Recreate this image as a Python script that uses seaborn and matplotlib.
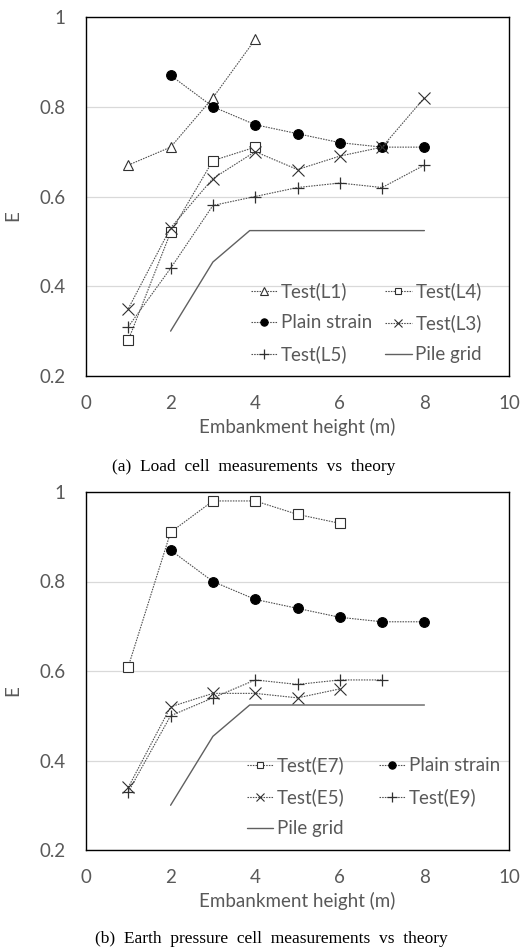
import matplotlib
matplotlib.use("Agg")
import matplotlib.pyplot as plt
import seaborn as sns

# ---------------- data ----------------
x_L1 = [1, 2, 3, 4]
y_L1 = [0.67, 0.71, 0.82, 0.95]
x_L4 = [1, 2, 3, 4]
y_L4 = [0.28, 0.52, 0.68, 0.71]
x_PS = [2, 3, 4, 5, 6, 7, 8]
y_PS = [0.87, 0.80, 0.76, 0.74, 0.72, 0.71, 0.71]
x_L3 = [1, 2, 3, 4, 5, 6, 7, 8]
y_L3 = [0.35, 0.53, 0.64, 0.70, 0.66, 0.69, 0.71, 0.82]
x_L5 = [1, 2, 3, 4, 5, 6, 7, 8]
y_L5 = [0.31, 0.44, 0.58, 0.60, 0.62, 0.63, 0.62, 0.67]
x_PG = [2, 3, 3.87, 8]
y_PG = [0.30, 0.454, 0.524, 0.524]

x_E7 = [1, 2, 3, 4, 5, 6]
y_E7 = [0.61, 0.91, 0.98, 0.98, 0.95, 0.93]
x_E5 = [1, 2, 3, 4, 5, 6]
y_E5 = [0.34, 0.52, 0.55, 0.55, 0.54, 0.56]
x_E9 = [1, 2, 3, 4, 5, 6, 7]
y_E9 = [0.33, 0.50, 0.54, 0.58, 0.57, 0.58, 0.58]

x_ticks = [0, 2, 4, 6, 8, 10]
y_ticks = [0.2, 0.4, 0.6, 0.8, 1.0]
y_ticklabels = ["0.2", "0.4", "0.6", "0.8", "1"]
x_label = "Embankment height (m)"
y_label = "E"
caption_a = "(a)  Load  cell  measurements  vs  theory"
caption_b = "(b)  Earth  pressure  cell  measurements  vs  theory"

# ---------------- style ----------------
sns.set_style("white")
plt.rcParams["font.family"] = ["Lato", "DejaVu Sans"]
TXT = "#595959"
LINE = "#505050"
MEC = "#303030"
FS = 13.5
dash = (0, (1.4, 1.0))

fig = plt.figure(figsize=(5.28, 9.48), dpi=100)
W, H = 528, 948


def add_ax(left, top, right, bottom):
    return fig.add_axes([left / W, 1 - bottom / H, (right - left) / W, (bottom - top) / H])


ax1 = add_ax(86, 17, 509, 376)
ax2 = add_ax(86, 492, 509, 850)

MARK = {
    "tri": dict(marker="^", markersize=7.5, markerfacecolor="white", markeredgecolor=MEC, markeredgewidth=0.8),
    "sq": dict(marker="s", markersize=6.5, markerfacecolor="white", markeredgecolor=MEC, markeredgewidth=0.8),
    "dot": dict(marker="o", markersize=7, markerfacecolor="black", markeredgecolor="black", markeredgewidth=0.8),
    "x": dict(marker="x", markersize=8, markeredgecolor=MEC, markeredgewidth=0.8),
    "plus": dict(marker="+", markersize=9, markeredgecolor=MEC, markeredgewidth=0.9),
}


def series(ax, x, y, m, label):
    sns.lineplot(x=x, y=y, ax=ax, color=LINE, linewidth=0.8, linestyle=dash,
                 label=label, legend=False, **MARK[m])


def pile(ax, label):
    sns.lineplot(x=x_PG, y=y_PG, ax=ax, color="#606060", linewidth=1.0,
                 label=label, legend=False, sort=False)


def style_ax(ax):
    ax.set_xlim(0, 10)
    ax.set_ylim(0.2, 1.0)
    ax.set_xticks(x_ticks)
    ax.set_yticks(y_ticks)
    ax.set_yticklabels(y_ticklabels)
    ax.grid(axis="y", color="#d9d9d9", linewidth=0.9)
    ax.grid(axis="x", visible=False)
    ax.set_axisbelow(True)
    ax.tick_params(axis="x", direction="in", length=5, width=0.8, color="#c8c8c8",
                   labelsize=FS, labelcolor=TXT, pad=14)
    ax.tick_params(axis="y", length=0, labelsize=FS, labelcolor=TXT, pad=15)
    for s in ax.spines.values():
        s.set_visible(True)
        s.set_color("black")
        s.set_linewidth(1.0)
    ax.set_xlabel(x_label, fontsize=FS, color=TXT, labelpad=4)
    ax.set_ylabel(y_label, fontsize=FS, color=TXT)
    ax.yaxis.set_label_coords(-0.152, 0.446)


LEG = dict(ncol=2, loc="lower left", frameon=False, fontsize=FS,
           handlelength=1.4, handletextpad=0.2, markerscale=0.75,
           labelspacing=0.75, borderaxespad=0, borderpad=0, labelcolor=TXT)

# ---- top panel ----
series(ax1, x_L1, y_L1, "tri", "Test(L1)")
series(ax1, x_L4, y_L4, "sq", "Test(L4)")
series(ax1, x_PS, y_PS, "dot", "Plain strain")
series(ax1, x_L3, y_L3, "x", "Test(L3)")
series(ax1, x_L5, y_L5, "plus", "Test(L5)")
pile(ax1, "Pile grid")
style_ax(ax1)
h, l = ax1.get_legend_handles_labels()
d = dict(zip(l, h))
order = ["Test(L1)", "Plain strain", "Test(L5)", "Test(L4)", "Test(L3)", "Pile grid"]
ax1.legend([d[k] for k in order], order, bbox_to_anchor=(0.39, 0.035),
           columnspacing=0.7, **LEG)

# ---- bottom panel ----
series(ax2, x_E7, y_E7, "sq", "Test(E7)")
series(ax2, x_PS, y_PS, "dot", "Plain strain")
series(ax2, x_E5, y_E5, "x", "Test(E5)")
series(ax2, x_E9, y_E9, "plus", "Test(E9)")
pile(ax2, "Pile grid")
style_ax(ax2)
h, l = ax2.get_legend_handles_labels()
d = dict(zip(l, h))
order = ["Test(E7)", "Test(E5)", "Pile grid", "Plain strain", "Test(E9)"]
ax2.legend([d[k] for k in order], order, bbox_to_anchor=(0.38, 0.035),
           columnspacing=1.85, **LEG)

# ---- captions ----
fig.text(254 / W, 1 - 467 / H, caption_a, ha="center", va="center",
         family=["Liberation Serif"], fontsize=12.5, color="black")
fig.text(271 / W, 1 - 939 / H, caption_b, ha="center", va="center",
         family=["Liberation Serif"], fontsize=12.5, color="black")

fig.savefig("out.png", dpi=100)
